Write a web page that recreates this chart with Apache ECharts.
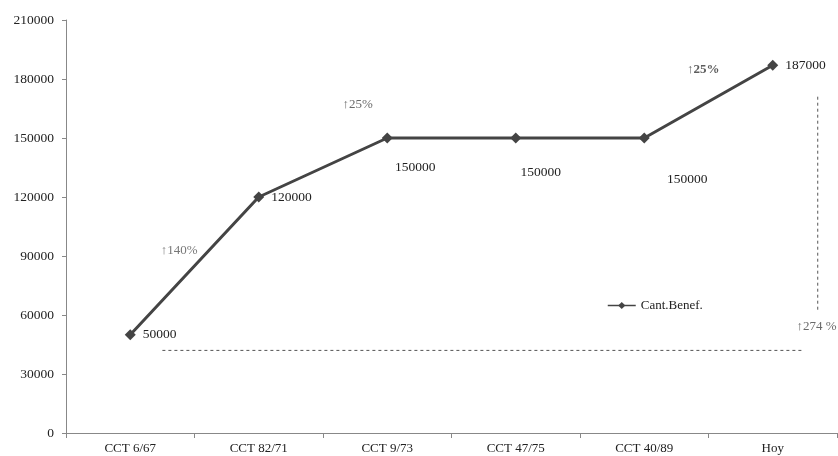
<!DOCTYPE html>
<html><head><meta charset="utf-8">
<script src="https://cdn.jsdelivr.net/npm/echarts@6/dist/echarts.min.js"></script>
<style>html,body{margin:0;padding:0;background:#fff}#c{width:838px;height:456px}</style>
</head><body><div id="c"></div>
<script>
const categories = ['CCT 6/67','CCT 82/71','CCT 9/73','CCT 47/75','CCT 40/89','Hoy'];
const values = [50000,120000,150000,150000,150000,187000];
const yTicks = [0,30000,60000,90000,120000,150000,180000,210000];
const seriesName = 'Cant.Benef.';
// annotation texts with positions in data units (category index, value)
const notes = [
  {text:'↑140%', x:0.38, y:93000, bold:false, color:'#555'},
  {text:'↑25%', x:1.77, y:166800, bold:false, color:'#444'},
  {text:'↑25%', x:4.46, y:184600, bold:true, color:'#333'},
  {text:'↑274 %', x:5.34, y:53900, bold:false, color:'#444'}
];
const hLine = [[0.25,42000],[5.23,42000]];
const vLine = [[5.35,171000],[5.35,62500]];
const labelOffsets = [null,null,[28,29],[25,34],[43,41],null];

const font = 'Liberation Serif';
const chart = echarts.init(document.getElementById('c'));
chart.setOption({
  animation:false,
  grid:{left:66,right:1,top:20,bottom:23},
  legend:{data:[seriesName],left:602,top:294,itemWidth:28,itemHeight:9,
    lineStyle:{width:1.5},
    textStyle:{fontFamily:font,fontSize:13,color:'#222'},itemGap:2},
  xAxis:[{type:'category',data:categories,boundaryGap:true,
    axisLine:{lineStyle:{color:'#888'}},
    axisTick:{show:true,length:5,lineStyle:{color:'#888'}},
    axisLabel:{fontFamily:font,fontSize:13,color:'#222',margin:9}},
   {type:'value',min:-0.5,max:5.5,show:false}],
  yAxis:{type:'value',min:yTicks[0],max:yTicks[yTicks.length-1],interval:30000,
    axisLine:{show:true,onZero:false,lineStyle:{color:'#888'}},
    axisTick:{show:true,length:4,lineStyle:{color:'#888'}},
    splitLine:{show:false},
    axisLabel:{fontFamily:font,fontSize:13.5,color:'#222',margin:12,formatter:v=>String(v)}},
  series:[
    {name:seriesName,type:'line',data:values.map((v,i)=>{
        const o={value:v};
        if(labelOffsets[i]) o.label={position:'inside',offset:labelOffsets[i]};
        return o;}),
      symbol:'diamond',symbolSize:11,
      lineStyle:{color:'#444',width:3},itemStyle:{color:'#444'},
      label:{show:true,position:'right',distance:7,fontFamily:font,fontSize:13.5,color:'#222'}},
    {type:'line',xAxisIndex:1,data:hLine,symbol:'none',silent:true,
      lineStyle:{color:'#555',width:1,type:[3,3]}},
    {type:'line',xAxisIndex:1,data:vLine,symbol:'none',silent:true,
      lineStyle:{color:'#555',width:1,type:[3,3]}},
    {type:'scatter',xAxisIndex:1,symbolSize:0,silent:true,
      data:notes.map(n=>({value:[n.x,n.y],label:{formatter:n.text,
        fontWeight:n.bold?'bold':'normal',color:n.color}})),
      label:{show:true,position:'inside',fontFamily:font,fontSize:13}}
  ]
});
</script></body></html>
